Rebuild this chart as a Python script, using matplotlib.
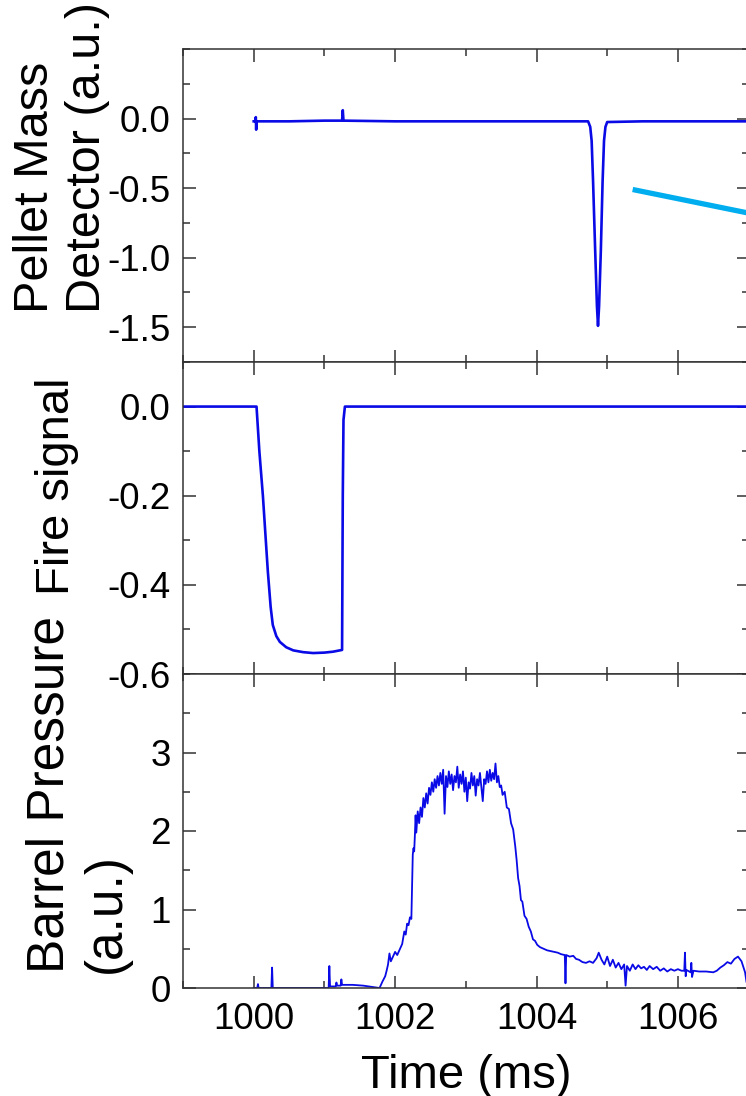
import matplotlib
matplotlib.use("Agg")
import matplotlib.pyplot as plt
from matplotlib.ticker import MultipleLocator, FixedLocator, FormatStrFormatter
from matplotlib.patches import Arc

# ---- data ----
# pellet mass detector (a.u.)
pm_t = [1000.00, 1000.02, 1000.03, 1000.035, 1000.04, 1000.5, 1001.0, 1001.25, 1001.26,
        1001.27, 1002.0, 1003.0, 1004.0, 1004.5, 1004.73, 1004.76, 1004.78, 1004.80,
        1004.83, 1004.855, 1004.87, 1004.885, 1004.91, 1004.935, 1004.955, 1004.975,
        1005.0, 1005.5, 1006.0, 1006.5, 1007.2]
pm_v = [-0.02, -0.02, 0.01, -0.08, -0.02, -0.02, -0.015, -0.015, 0.06,
        -0.015, -0.02, -0.02, -0.02, -0.02, -0.02, -0.06, -0.16, -0.45,
        -0.95, -1.35, -1.49, -1.35, -0.95, -0.45, -0.16, -0.06,
        -0.025, -0.02, -0.02, -0.02, -0.02]

# fire signal
fs_t = [999.0, 999.5, 1000.04, 1000.08, 1000.13, 1000.20, 1000.24, 1000.27, 1000.32,
        1000.37, 1000.46, 1000.56, 1000.70, 1000.84, 1001.00, 1001.12, 1001.25,
        1001.26, 1001.27, 1001.29, 1002.0, 1003.0, 1004.0, 1005.0, 1006.0, 1007.2]
fs_v = [0.0, 0.0, 0.0, -0.10, -0.20, -0.37, -0.45, -0.49, -0.515,
        -0.528, -0.540, -0.547, -0.551, -0.553, -0.552, -0.550, -0.546,
        -0.20, -0.03, 0.0, 0.0, 0.0, 0.0, 0.0, 0.0, 0.0]

# barrel pressure (a.u.)
bp_t = [1000.00, 1000.05, 1000.06, 1000.07, 1000.25, 1000.26, 1000.27, 1001.06, 1001.07,
        1001.08, 1001.16, 1001.17, 1001.18, 1001.23, 1001.24, 1001.25, 1001.40, 1001.55,
        1001.70, 1001.78, 1001.82, 1001.86, 1001.88, 1001.90, 1001.92, 1001.94, 1001.97,
        1002.00, 1002.03, 1002.07, 1002.10, 1002.13, 1002.15, 1002.17, 1002.19, 1002.21,
        1002.23, 1002.24, 1002.25, 1002.26, 1002.27, 1002.28, 1002.29, 1002.30, 1002.32,
        1002.34, 1002.36, 1002.38, 1002.40, 1002.42, 1002.44, 1002.46, 1002.48, 1002.50,
        1002.52, 1002.54, 1002.56, 1002.58, 1002.60, 1002.62, 1002.64, 1002.66, 1002.68,
        1002.70, 1002.72, 1002.74, 1002.76, 1002.78, 1002.80, 1002.82, 1002.84, 1002.86,
        1002.88, 1002.90, 1002.92, 1002.94, 1002.96, 1002.98, 1003.00, 1003.02, 1003.04,
        1003.06, 1003.08, 1003.10, 1003.12, 1003.14, 1003.16, 1003.18, 1003.20, 1003.22,
        1003.24, 1003.26, 1003.28, 1003.30, 1003.32, 1003.34, 1003.36, 1003.38, 1003.40,
        1003.42, 1003.44, 1003.46, 1003.48, 1003.50, 1003.52, 1003.55, 1003.58, 1003.61,
        1003.64, 1003.67, 1003.70, 1003.72, 1003.74, 1003.76, 1003.78, 1003.80, 1003.83,
        1003.86, 1003.89, 1003.92, 1003.95, 1003.98, 1004.01, 1004.05, 1004.10, 1004.15,
        1004.20, 1004.25, 1004.30, 1004.35, 1004.40, 1004.41, 1004.42, 1004.47, 1004.52,
        1004.56, 1004.60, 1004.65, 1004.70, 1004.75, 1004.80, 1004.85, 1004.88, 1004.92,
        1004.96, 1005.00, 1005.04, 1005.08, 1005.12, 1005.16, 1005.20, 1005.24, 1005.26,
        1005.28, 1005.32, 1005.36, 1005.40, 1005.44, 1005.48, 1005.52, 1005.56, 1005.60,
        1005.65, 1005.70, 1005.75, 1005.80, 1005.85, 1005.90, 1005.95, 1006.00, 1006.05,
        1006.09, 1006.10, 1006.11, 1006.12, 1006.18, 1006.19, 1006.20, 1006.22, 1006.30,
        1006.40, 1006.50, 1006.55, 1006.60, 1006.65, 1006.70, 1006.75, 1006.80, 1006.85,
        1006.90, 1006.95, 1006.97]
bp_v = [0.00, 0.00, 0.05, 0.00, 0.00, 0.26, 0.00, 0.00, 0.28,
        0.02, 0.02, 0.07, 0.03, 0.03, 0.11, 0.04, 0.04, 0.03,
        0.01, 0.00, 0.08, 0.15, 0.22, 0.30, 0.44, 0.34, 0.40,
        0.46, 0.42, 0.50, 0.56, 0.72, 0.68, 0.82, 0.80, 0.90,
        0.88, 1.30, 1.70, 1.78, 1.74, 1.95, 2.20, 1.98, 2.25,
        2.10, 2.30, 2.18, 2.42, 2.30, 2.48, 2.35, 2.55, 2.46,
        2.62, 2.50, 2.66, 2.55, 2.70, 2.58, 2.74, 2.60, 2.78,
        2.22, 2.70, 2.56, 2.76, 2.60, 2.72, 2.52, 2.70, 2.62,
        2.82, 2.55, 2.72, 2.60, 2.76, 2.50, 2.68, 2.38, 2.62,
        2.54, 2.74, 2.58, 2.70, 2.45, 2.66, 2.58, 2.74, 2.56,
        2.38, 2.66, 2.60, 2.76, 2.62, 2.78, 2.64, 2.74, 2.66,
        2.86, 2.62, 2.70, 2.56, 2.58, 2.46, 2.50, 2.30, 2.28,
        2.10, 2.02, 1.80, 1.62, 1.40, 1.30, 1.12, 1.10, 0.92,
        0.88, 0.78, 0.72, 0.62, 0.60, 0.55, 0.52, 0.50, 0.48,
        0.47, 0.46, 0.45, 0.43, 0.42, 0.06, 0.42, 0.40, 0.41,
        0.37, 0.36, 0.33, 0.32, 0.34, 0.32, 0.38, 0.45, 0.36,
        0.30, 0.40, 0.28, 0.36, 0.26, 0.32, 0.24, 0.30, 0.03,
        0.28, 0.22, 0.30, 0.24, 0.29, 0.25, 0.27, 0.23, 0.28,
        0.24, 0.27, 0.22, 0.25, 0.21, 0.24, 0.22, 0.24, 0.22,
        0.22, 0.45, 0.15, 0.23, 0.20, 0.32, 0.14, 0.22, 0.21,
        0.21, 0.20, 0.22, 0.26, 0.29, 0.33, 0.31, 0.37, 0.40,
        0.34, 0.20, 0.08]

# cyan pointer line on the top panel (ms, a.u.)
arrow_t = [1005.36, 1007.1]
arrow_v = [-0.51, -0.69]

x_ticks = [1000, 1002, 1004, 1006]

plt.rcParams['font.family'] = ['Liberation Sans', 'DejaVu Sans']
plt.rcParams['axes.unicode_minus'] = False

fig = plt.figure(figsize=(7.46, 10.96), dpi=100)

left, width = 183 / 746, 565.6 / 746
ax1 = fig.add_axes([left, 1 - 362 / 1096, width, 313 / 1096])
ax2 = fig.add_axes([left, 1 - 674 / 1096, width, 312 / 1096])
ax3 = fig.add_axes([left, 1 - 988 / 1096, width, 314 / 1096])

blue = '#0a0ae6'
ax1.plot(pm_t, pm_v, color=blue, lw=1.9)
ax2.plot(fs_t, fs_v, color=blue, lw=1.9)
ax3.plot(bp_t, bp_v, color=blue, lw=1.3)

ax1.plot(arrow_t, arrow_v, color='#00aeef', lw=3.8, clip_on=False,
         solid_capstyle='butt')

ax1.set_ylim(-1.75, 0.5)
ax1.yaxis.set_major_locator(FixedLocator([-1.5, -1.0, -0.5, 0.0]))
ax1.yaxis.set_minor_locator(MultipleLocator(0.25))
ax1.yaxis.set_major_formatter(FormatStrFormatter('%.1f'))

ax2.set_ylim(-0.6, 0.1)
ax2.yaxis.set_major_locator(FixedLocator([-0.6, -0.4, -0.2, 0.0]))
ax2.yaxis.set_minor_locator(MultipleLocator(0.1))
ax2.yaxis.set_major_formatter(FormatStrFormatter('%.1f'))

ax3.set_ylim(0, 4)
ax3.yaxis.set_major_locator(FixedLocator([0, 1, 2, 3]))
ax3.yaxis.set_minor_locator(MultipleLocator(0.5))

for ax in (ax1, ax2, ax3):
    ax.set_xlim(999, 1007)
    ax.xaxis.set_major_locator(FixedLocator(x_ticks))
    ax.xaxis.set_minor_locator(MultipleLocator(1))
    ax.tick_params(which='both', direction='in', top=True, right=True,
                   color='#333333', width=1.1, labelsize=26.5)
    ax.tick_params(which='major', length=9)
    ax.tick_params(which='minor', length=5)
    ax.tick_params(axis='y', pad=9)
    ax.tick_params(axis='x', pad=10)
    for s in ax.spines.values():
        s.set_color('#333333')
        s.set_linewidth(1.1)
    if ax is not ax3:
        ax.tick_params(labelbottom=False)

ax3.set_xlabel('Time (ms)', fontsize=34, labelpad=12)

# y labels, left aligned lines as in the original slide
fig.text(62 / 746, 1 - 313 / 1096, 'Pellet Mass\nDetector (a.u.)', rotation=90,
         ha='center', va='bottom', multialignment='left', fontsize=35)
fig.text(57 / 746, 1 - 595 / 1096, 'Fire signal', rotation=90,
         ha='center', va='bottom', fontsize=34)
fig.text(78 / 746, 1 - 973 / 1096, 'Barrel Pressure\n(a.u.)', rotation=90,
         ha='center', va='bottom', multialignment='left', fontsize=37)

# faint grey swoosh in the lower left corner
fig.add_artist(Arc((60 / 746, 1 - 1150 / 1096), 150 / 746, 100 / 1096,
                   theta1=95, theta2=175, color='#e6e6e6', lw=3,
                   transform=fig.transFigure))

fig.savefig('out.png', dpi=100)
